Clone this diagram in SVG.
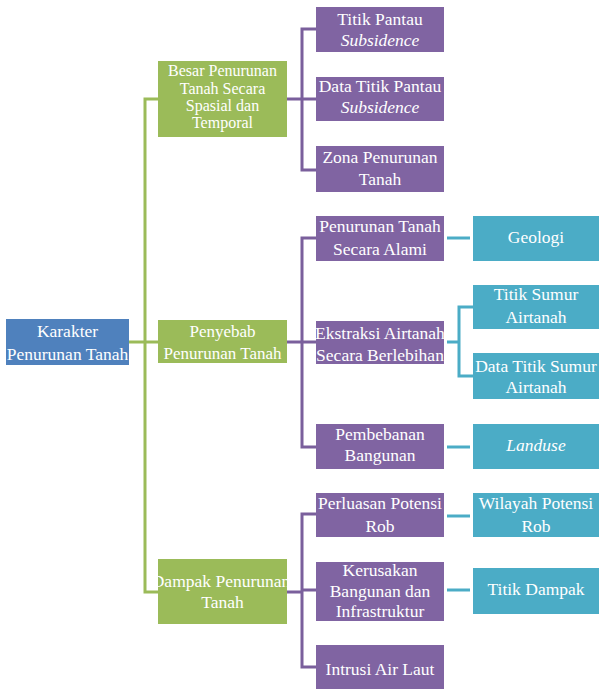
<svg xmlns="http://www.w3.org/2000/svg" width="599" height="689" viewBox="0 0 599 689">
<style>
text{font-size:17.5px;fill:#ffffff;text-anchor:middle}
.it{font-style:italic}
.blue{fill:#4f81bd}
.green{fill:#9bbb59}
.purple{fill:#8064a2}
.teal{fill:#4bacc6}
.lg{stroke:#9bbb59;stroke-width:3;fill:none}
.lp{stroke:#7a5f9c;stroke-width:3;fill:none}
.lt{stroke:#4bacc6;stroke-width:3;fill:none}
</style>
<rect width="599" height="689" fill="#ffffff"/>
<g id="connectors">
<path class="lg" d="M129,342H145M158,99H145V592H158M145,342H158"/>
<path class="lp" d="M287,99H302M316,29H302V170H316M302,99H316"/>
<path class="lp" d="M287,342H302M316,238H302V447H316M302,342H316"/>
<path class="lp" d="M287,592H302M316,514H302V667H316M302,590H316"/>
<path class="lt" d="M447,238H470"/>
<path class="lt" d="M447,342H459M473,307H459V376H473"/>
<path class="lt" d="M447,447H470"/>
<path class="lt" d="M447,516H470"/>
<path class="lt" d="M447,590H470"/>
</g>
<g font-family="Liberation Serif, Tinos, Times New Roman, DejaVu Serif, serif">
<g id="karakter"><rect class="blue" x="6" y="319" width="123" height="46"/><text x="67.5" y="337">Karakter</text><text x="67.5" y="360">Penurunan Tanah</text></g>
<g id="besar"><rect class="green" x="158" y="61" width="129" height="76"/><text style="font-size:16px" x="222.5" y="76">Besar Penurunan</text><text style="font-size:16px" x="222.5" y="93.5">Tanah  Secara</text><text style="font-size:16px" x="222.5" y="111">Spasial dan</text><text style="font-size:16px" x="222.5" y="128">Temporal</text></g>
<g id="penyebab"><rect class="green" x="158" y="320" width="129" height="43"/><text style="font-size:17px" x="222.5" y="337">Penyebab</text><text style="font-size:17px" x="222.5" y="359">Penurunan Tanah</text></g>
<g id="dampak"><rect class="green" x="158" y="559" width="129" height="65"/><text x="221" y="587">Dampak Penurunan</text><text x="222.5" y="608">Tanah</text></g>
<g id="titik-pantau"><rect class="purple" x="316" y="7" width="128" height="45"/><text x="380" y="25">Titik Pantau</text><text class="it" x="380" y="46">Subsidence</text></g>
<g id="data-titik-pantau"><rect class="purple" x="316" y="77" width="128" height="44"/><text x="380" y="92">Data Titik Pantau</text><text class="it" x="380" y="113">Subsidence</text></g>
<g id="zona"><rect class="purple" x="316" y="146" width="128" height="46"/><text x="380" y="163">Zona Penurunan</text><text x="380" y="185">Tanah</text></g>
<g id="alami"><rect class="purple" x="316" y="216" width="128" height="45"/><text x="380" y="232">Penurunan Tanah</text><text x="380" y="255">Secara Alami</text></g>
<g id="ekstraksi"><rect class="purple" x="316" y="321" width="128" height="43"/><text x="380" y="339">Ekstraksi Airtanah</text><text x="380" y="361">Secara Berlebihan</text></g>
<g id="pembebanan"><rect class="purple" x="316" y="424" width="128" height="45"/><text x="380" y="440">Pembebanan</text><text x="380" y="461">Bangunan</text></g>
<g id="perluasan"><rect class="purple" x="316" y="493" width="128" height="44"/><text x="380" y="509">Perluasan Potensi</text><text x="380" y="532">Rob</text></g>
<g id="kerusakan"><rect class="purple" x="316" y="562" width="128" height="59"/><text x="380" y="576">Kerusakan</text><text x="380" y="597">Bangunan dan</text><text x="380" y="617">Infrastruktur</text></g>
<g id="intrusi"><rect class="purple" x="316" y="645" width="128" height="44"/><text x="380" y="675">Intrusi Air Laut</text></g>
<g id="geologi"><rect class="teal" x="473" y="216" width="126" height="45"/><text x="536" y="243">Geologi</text></g>
<g id="titik-sumur"><rect class="teal" x="473" y="285" width="126" height="44"/><text x="536" y="300">Titik Sumur</text><text x="536" y="323">Airtanah</text></g>
<g id="data-titik-sumur"><rect class="teal" x="473" y="353" width="126" height="46"/><text x="536" y="372">Data Titik Sumur</text><text x="536" y="393">Airtanah</text></g>
<g id="landuse"><rect class="teal" x="473" y="424" width="126" height="45"/><text class="it" x="536" y="451">Landuse</text></g>
<g id="wilayah"><rect class="teal" x="473" y="493" width="126" height="44"/><text x="536" y="509">Wilayah Potensi</text><text x="536" y="532">Rob</text></g>
<g id="titik-dampak"><rect class="teal" x="473" y="568" width="126" height="46"/><text x="536" y="595">Titik Dampak</text></g>
</g>
</svg>
